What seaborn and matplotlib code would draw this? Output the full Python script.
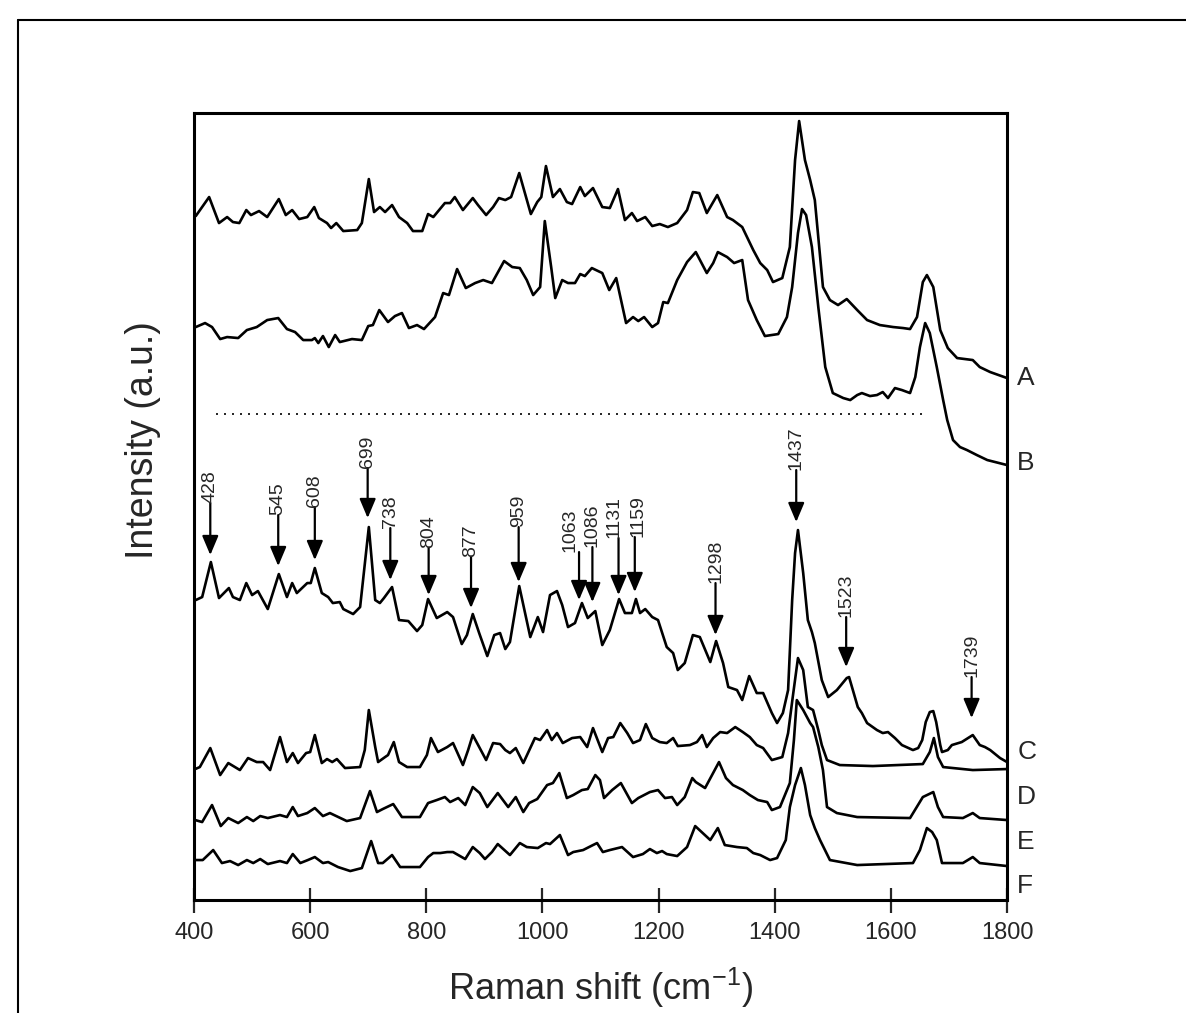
import numpy as np
import pandas as pd
import matplotlib
matplotlib.use("Agg")
import matplotlib.pyplot as plt
import seaborn as sns
from matplotlib.lines import Line2D

# ---------------- data (Raman shift in cm-1, intensity in a.u.) ----------------
a_shift = [403, 426, 443, 457, 467, 478, 490, 498, 512, 526, 546, 558, 569, 581, 595, 607, 615, 629, 636, 645,
           657, 681, 689, 701, 710, 720, 729, 741, 753, 767, 777, 793, 803, 812, 832, 841, 849, 863, 880, 889,
           903, 915, 925, 936, 946, 960, 980, 991, 998, 1006, 1018, 1030, 1042, 1051, 1065, 1073, 1087, 1103,
           1116, 1130, 1142, 1154, 1163, 1177, 1189, 1202, 1216, 1232, 1249, 1259, 1270, 1283, 1301, 1318,
           1328, 1344, 1363, 1375, 1387, 1397, 1413, 1426, 1435, 1442, 1452, 1461, 1469, 1483, 1495, 1509,
           1524, 1542, 1559, 1581, 1604, 1621, 1633, 1645, 1655, 1662, 1673, 1685, 1698, 1714, 1741, 1753,
           1771, 1800]
a_int = [684, 703, 677, 683, 678, 677, 690, 685, 689, 683, 701, 685, 690, 681, 683, 693, 682, 677, 672, 677,
         669, 670, 677, 721, 688, 693, 688, 695, 683, 677, 669, 669, 686, 683, 697, 697, 703, 690, 702, 695,
         685, 693, 702, 700, 703, 727, 686, 698, 703, 734, 703, 711, 698, 696, 713, 704, 712, 693,
         692, 711, 680, 687, 679, 683, 674, 676, 673, 677, 690, 708, 707, 687, 705, 683,
         680, 673, 650, 637, 630, 618, 622, 653, 740, 779, 740, 720, 700, 613, 600, 595,
         601, 590, 580, 575, 573, 572, 571, 583, 618, 625, 613, 570, 552, 542, 540, 533,
         528, 522]

b_shift = [403, 419, 431, 445, 457, 476, 491, 508, 526, 545, 560, 574, 588, 603, 608, 614, 622, 632, 643, 651,
           672, 689, 700, 708, 719, 734, 746, 758, 770, 784, 796, 815, 829, 839, 853, 868, 884, 898, 913, 934,
           948, 961, 973, 984, 996, 1004, 1015, 1022, 1034, 1044, 1056, 1065, 1073, 1085, 1103, 1115, 1127,
           1144, 1156, 1165, 1175, 1189, 1199, 1208, 1216, 1232, 1249, 1264, 1283, 1294, 1302, 1318, 1330,
           1344, 1354, 1369, 1383, 1406, 1421, 1430, 1440, 1447, 1454, 1464, 1475, 1487, 1500, 1518, 1530,
           1542, 1550, 1564, 1576, 1586, 1595, 1607, 1619, 1633, 1642, 1650, 1659, 1667, 1679, 1690, 1697,
           1707, 1719, 1731, 1748, 1766, 1800]
b_int = [573, 577, 573, 561, 563, 562, 570, 573, 580, 582, 571, 568, 560, 560, 562, 557, 564, 553, 565, 558,
         561, 560, 574, 575, 590, 578, 584, 587, 572, 575, 571, 583, 607, 605, 631, 612, 617, 620, 617, 639,
         633, 632, 620, 605, 613, 679, 633, 602, 620, 617, 617, 626, 624, 632, 627, 610, 622,
         577, 583, 579, 583, 573, 577, 598, 597, 620, 638, 648, 627, 637, 648, 643, 637,
         640, 600, 580, 564, 566, 583, 613, 667, 691, 685, 653, 593, 533, 507, 502, 500,
         505, 507, 504, 505, 508, 502, 512, 510, 507, 523, 553, 577, 567, 533, 500, 480,
         460, 453, 450, 445, 440, 435]

c_shift = [403, 414, 429, 443, 460, 467, 479, 490, 500, 510, 527, 546, 560, 569, 577, 595, 601, 608, 620, 631,
           639, 651, 657, 674, 686, 701, 712, 720, 727, 741, 753, 769, 784, 793, 803, 818, 836, 846, 861, 870,
           880, 891, 905, 917, 927, 936, 944, 960, 979, 992, 1001, 1013, 1025, 1034, 1044, 1056, 1068, 1078,
           1091, 1103, 1116, 1132, 1142, 1154, 1161, 1168, 1177, 1189, 1199, 1214, 1225, 1233, 1245, 1259,
           1271, 1289, 1299, 1311, 1320, 1335, 1344, 1356, 1369, 1380, 1395, 1404, 1414, 1423, 1430, 1435,
           1440, 1449, 1457, 1464, 1469, 1481, 1492, 1507, 1524, 1528, 1533, 1543, 1550, 1559, 1576, 1586,
           1595, 1607, 1619, 1638, 1647, 1654, 1660, 1667, 1673, 1678, 1685, 1688, 1698, 1705, 1722, 1733,
           1741, 1753, 1762, 1771, 1788, 1800]
c_int = [300, 303, 338, 302, 312, 303, 300, 317, 305, 309, 291, 326, 303, 317, 307, 317, 317, 332, 307, 303,
         297, 298, 291, 286, 293, 373, 300, 297, 302, 313, 280, 279, 269, 275, 301, 282, 288, 283, 256, 265,
         286, 267, 244, 265, 267, 251, 258, 314, 263, 283, 268, 305, 309, 295, 273, 277, 297, 282,
         289, 255, 270, 301, 287, 287, 301, 287, 291, 283, 280, 253, 247, 230, 237, 265,
         263, 238, 259, 237, 213, 210, 200, 224, 207, 207, 187, 177, 187, 210, 300, 347,
         370, 327, 280, 268, 257, 220, 203, 210, 222, 223, 213, 193, 187, 177, 170, 167,
         168, 162, 155, 150, 152, 160, 178, 188, 189, 178, 155, 148, 150, 155, 158, 162,
         165, 155, 153, 150, 142, 138]

d_shift = [402, 410, 428, 445, 459, 479, 493, 508, 519, 531, 548, 560, 570, 579, 593, 600, 608, 620, 629, 638,
           646, 660, 686, 694, 701, 712, 717, 729, 734, 744, 753, 767, 789, 801, 808, 820, 836, 846, 853, 863,
           872, 880, 892, 903, 915, 927, 936, 944, 954, 967, 987, 996, 1008, 1016, 1025, 1035, 1051, 1065,
           1077, 1087, 1103, 1113, 1122, 1134, 1146, 1156, 1168, 1178, 1189, 1202, 1214, 1225, 1233, 1254,
           1266, 1275, 1283, 1294, 1306, 1318, 1332, 1345, 1357, 1369, 1380, 1395, 1413, 1423, 1431, 1440,
           1449, 1457, 1466, 1475, 1481, 1490, 1512, 1569, 1655, 1667, 1674, 1681, 1690, 1741, 1800]
d_int = [131, 133, 152, 125, 137, 130, 142, 138, 138, 130, 163, 138, 147, 137, 147, 148, 165, 137, 141, 138,
         141, 132, 133, 150, 190, 153, 138, 143, 145, 158, 138, 133, 133, 145, 162, 148, 153, 157, 148, 135,
         150, 165, 152, 140, 157, 156, 150, 147, 152, 137, 162, 160, 170, 160, 167, 157, 162, 163,
         153, 172, 148, 162, 163, 177, 167, 157, 160, 176, 162, 158, 157, 162, 154, 155,
         158, 165, 153, 162, 168, 167, 173, 168, 163, 155, 152, 140, 143, 167, 203, 242,
         230, 193, 190, 170, 155, 140, 135, 134, 136, 148, 162, 143, 133, 130, 131]

e_shift = [402, 414, 431, 446, 459, 476, 491, 502, 514, 527, 548, 560, 570, 579, 595, 608, 622, 634, 663, 686,
           703, 715, 725, 743, 758, 789, 803, 818, 832, 841, 855, 867, 880, 892, 905, 923, 941, 954, 967, 977,
           991, 1008, 1018, 1029, 1042, 1053, 1068, 1078, 1091, 1099, 1106, 1120, 1135, 1154, 1165, 1185,
           1199, 1211, 1223, 1232, 1245, 1258, 1264, 1280, 1304, 1316, 1328, 1345, 1357, 1371, 1387, 1395,
           1409, 1426, 1433, 1438, 1449, 1461, 1466, 1475, 1483, 1490, 1507, 1542, 1633, 1655, 1673, 1681,
           1690, 1724, 1741, 1753, 1800]
e_int = [80, 78, 95, 74, 82, 77, 83, 79, 84, 82, 85, 83, 93, 84, 87, 92, 84, 87, 79, 82,
         109, 88, 91, 96, 83, 83, 97, 100, 103, 98, 102, 95, 113, 107, 93, 107, 93, 103, 88, 97,
         101, 115, 117, 127, 102, 105, 110, 111, 125, 120, 102, 110, 117, 97, 102, 108,
         110, 102, 103, 95, 103, 122, 118, 112, 138, 122, 115, 110, 105, 100, 98, 90,
         93, 117, 160, 200, 190, 177, 173, 153, 130, 93, 87, 83, 82, 103, 108, 93,
         83, 82, 87, 82, 80]

f_shift = [402, 415, 433, 448, 462, 476, 491, 502, 514, 527, 548, 560, 570, 583, 596, 608, 622, 631, 648, 669,
           689, 705, 717, 725, 741, 755, 789, 803, 812, 824, 836, 846, 867, 880, 892, 901, 913, 923, 944, 961,
           973, 992, 1006, 1013, 1030, 1044, 1053, 1070, 1087, 1094, 1104, 1116, 1137, 1156, 1173, 1185,
           1197, 1206, 1214, 1232, 1249, 1263, 1276, 1289, 1302, 1314, 1335, 1352, 1363, 1375, 1392, 1404,
           1419, 1426, 1435, 1445, 1452, 1461, 1469, 1478, 1495, 1542, 1638, 1650, 1662, 1671, 1679, 1688,
           1724, 1741, 1753, 1800]
f_int = [40, 40, 50, 37, 39, 35, 40, 37, 41, 36, 39, 37, 46, 37, 40, 43, 37, 38, 33, 29,
         32, 59, 37, 37, 45, 33, 33, 43, 47, 47, 48, 48, 41, 53, 47, 41, 48, 56, 45, 57,
         53, 52, 57, 56, 65, 45, 48, 50, 55, 57, 48, 50, 53, 43, 46, 51,
         47, 49, 46, 44, 53, 74, 67, 60, 72, 55, 53, 52, 47, 45, 40, 42,
         60, 93, 115, 132, 115, 85, 72, 60, 40, 35, 37, 50, 72, 68, 60, 37,
         37, 43, 37, 34]

trace_names = ["A", "B", "C", "D", "E", "F"]
trace_label_level = [522, 437, 148, 103, 58, 14]

# dotted reference line (intensity level and extent)
dotted_level = 486
dotted_start, dotted_end = 438, 1655

# annotated peaks of trace C
peak_labels = [428, 545, 608, 699, 738, 804, 877, 959, 1063, 1086, 1131, 1159, 1298, 1437, 1523, 1739]
peak_tip_level = [345, 334, 340, 382, 320, 305, 292, 318, 300, 298, 305, 308, 265, 378, 233, 182]
peak_text_level = [397, 385, 393, 432, 372, 352, 343, 373, 348, 353, 362, 363, 317, 430, 283, 223]

# ---------------- build long-form table ----------------
shifts = [a_shift, b_shift, c_shift, d_shift, e_shift, f_shift]
ints = [a_int, b_int, c_int, d_int, e_int, f_int]
df = pd.concat([pd.DataFrame({"shift": s, "intensity": i, "trace": n})
                for s, i, n in zip(shifts, ints, trace_names)], ignore_index=True)

# ---------------- style ----------------
sns.set_style("ticks")
plt.rcParams["font.family"] = ["Liberation Sans", "DejaVu Sans"]
plt.rcParams["mathtext.fontset"] = "custom"
plt.rcParams["mathtext.rm"] = "Liberation Sans"
plt.rcParams["mathtext.it"] = "Liberation Sans"
plt.rcParams["mathtext.bf"] = "Liberation Sans"

fig = plt.figure(figsize=(11.86, 10.13), dpi=100)
ax = fig.add_axes([0.1636, 0.1115, 0.6855, 0.7769])

sns.lineplot(data=df, x="shift", y="intensity", units="trace", estimator=None, sort=False,
             color="black", lw=1.9, ax=ax, legend=False)
for ln in ax.get_lines():
    ln.set_solid_joinstyle("round")

ax.plot([dotted_start, dotted_end], [dotted_level, dotted_level], color="black", lw=1.2,
        ls=(0, (1.2, 3.6)))

# horizontal nudges (cm-1) for crowded labels so the texts sit beside each other
label_nudge = {1063: -15, 1086: -1, 1131: -7, 1159: 6}

for lab, tip, txt in zip(peak_labels, peak_tip_level, peak_text_level):
    ax.annotate("", xy=(lab, tip), xytext=(lab, txt),
                arrowprops=dict(arrowstyle="-|>,head_length=0.9,head_width=0.38",
                                color="black", lw=1.6, shrinkA=0, shrinkB=0,
                                mutation_scale=13))
    ax.text(lab + label_nudge.get(lab, 0), txt, str(lab), rotation=90, ha="center",
            va="bottom", fontsize=14)

for name, lvl in zip(trace_names, trace_label_level):
    ax.text(1.0125, lvl, name, transform=ax.get_yaxis_transform(), ha="left", va="center",
            fontsize=19)

ax.set_xlim(400, 1800)
ax.set_ylim(0, 787)
ax.set_xticks(np.arange(400, 1801, 200))
ax.set_yticks([])
ax.tick_params(axis="x", direction="inout", length=18, width=1.6, labelsize=17, pad=7)
for sp in ax.spines.values():
    sp.set_visible(True)
    sp.set_linewidth(2.2)
    sp.set_color("black")

ax.set_xlabel(r"Raman shift (cm$^{-1}$)", fontsize=26, va="center")
ax.xaxis.set_label_coords(0.5, -0.112)
ax.set_ylabel("Intensity (a.u.)", fontsize=27, va="center")
ax.yaxis.set_label_coords(-0.063, 0.585)

# outer frame of the figure panel
fig.add_artist(Line2D([18 / 1186, 1.0], [1 - 20 / 1013, 1 - 20 / 1013],
                      transform=fig.transFigure, color="black", lw=1.5))
fig.add_artist(Line2D([18 / 1186, 18 / 1186], [1 - 20 / 1013, 0.0],
                      transform=fig.transFigure, color="black", lw=1.5))

fig.savefig("out.png", dpi=100)
